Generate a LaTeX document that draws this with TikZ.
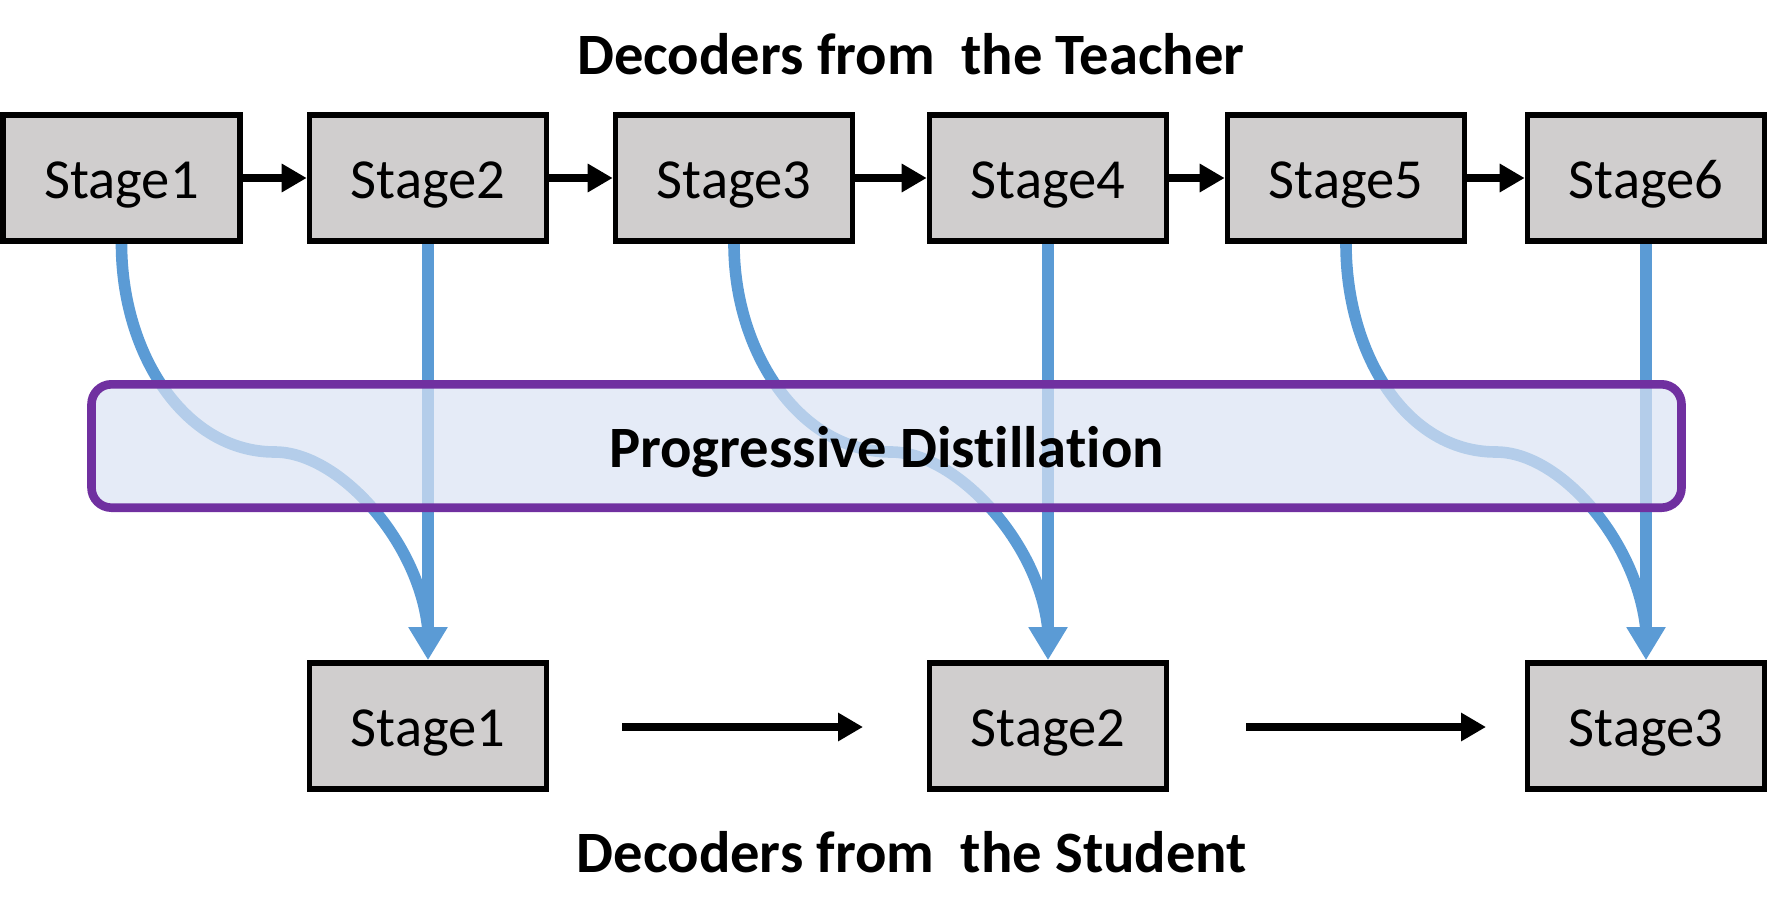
\documentclass[tikz,border=0pt]{standalone}
\usepackage{fontspec}
\setmainfont{Carlito}[Ligatures=NoCommon]
\usetikzlibrary{arrows.meta,calc}
\definecolor{stagegray}{HTML}{D0CECE}
\definecolor{distblue}{HTML}{5B9BD5}
\definecolor{panelpurple}{HTML}{7030A0}
\definecolor{panelfill}{HTML}{DAE3F3}
\pgfdeclarelayer{lines}
\pgfdeclarelayer{panellayer}
\pgfsetlayers{lines,panellayer,main}
\begin{document}
\begin{tikzpicture}[x=0.5pt,y=-0.5pt,
 stagebox/.style={draw=black,line width=2.8pt,fill=stagegray,minimum width=118.5pt,minimum height=63pt,inner sep=0pt,text height=20pt,text depth=0pt,font=\fontsize{28.3}{34}\selectfont},
 titletext/.style={inner sep=0pt,font=\bfseries\fontsize{29.3}{35}\selectfont},
 flowarrow/.style={draw=black,line width=4.3pt,-{Triangle[width=13.5pt,length=12.5pt]}},
 distarrow/.style={draw=distblue,line width=5.8pt,-{Triangle[width=18.5pt,length=16.5pt]}},
 distcurve/.style={draw=distblue,line width=5.8pt},
 panel/.style={draw=panelpurple,line width=4.3pt,fill=panelfill,fill opacity=0.7,draw opacity=1,text opacity=1,rounded corners=10pt,minimum width=795pt,minimum height=61.7pt,inner sep=0pt,text height=21pt,text depth=0pt,font=\bfseries\fontsize{29.3}{35}\selectfont}]
\useasboundingbox (0,0) rectangle (1768,921);

% titles
\node[titletext] (ttitle) at (911,54) {Decoders from~ the Teacher};
\node[titletext] (stitle) at (912,852) {Decoders from~ the Student};

% teacher stages
\node[stagebox] (t1) at (121.5,178) {Stage1};
\node[stagebox] (t2) at (428,178) {Stage2};
\node[stagebox] (t3) at (734,178) {Stage3};
\node[stagebox] (t4) at (1048,178) {Stage4};
\node[stagebox] (t5) at (1346,178) {Stage5};
\node[stagebox] (t6) at (1646,178) {Stage6};

% student stages
\node[stagebox] (s1) at (428,726) {Stage1};
\node[stagebox] (s2) at (1048,726) {Stage2};
\node[stagebox] (s3) at (1646,726) {Stage3};

% teacher flow
\draw[flowarrow] (t1.east) -- (t2.west);
\draw[flowarrow] (t2.east) -- (t3.west);
\draw[flowarrow] (t3.east) -- (t4.west);
\draw[flowarrow] (t4.east) -- (t5.west);
\draw[flowarrow] (t5.east) -- (t6.west);

% student flow
\coordinate (a1) at (622,727);
\coordinate (a2) at (863,727);
\coordinate (a3) at (1246,727);
\coordinate (a4) at (1486,727);
\draw[flowarrow] (a1) -- (a2);
\draw[flowarrow] (a3) -- (a4);

% distillation connectors
\begin{pgfonlayer}{lines}
\foreach \t/\tt/\s in {t1/t2/s1, t3/t4/s2, t5/t6/s3}{
  \coordinate (e-\s) at ($(\s.north)+(0,-30)$);
  \coordinate (m-\s) at ($(\t.south)!0.5!(\s.north)$);
  \draw[distcurve] (\t.south) .. controls +(0,110) and +(-90,0) .. (m-\s)
     .. controls +(65,0) and +(-8,-87) .. (e-\s);
  \draw[distarrow] (\tt.south) -- (\s.north);
}
\end{pgfonlayer}

% panel
\begin{pgfonlayer}{panellayer}
\node[panel] (pd) at (886.5,446) {Progressive Distillation};
\end{pgfonlayer}
\end{tikzpicture}
\end{document}
